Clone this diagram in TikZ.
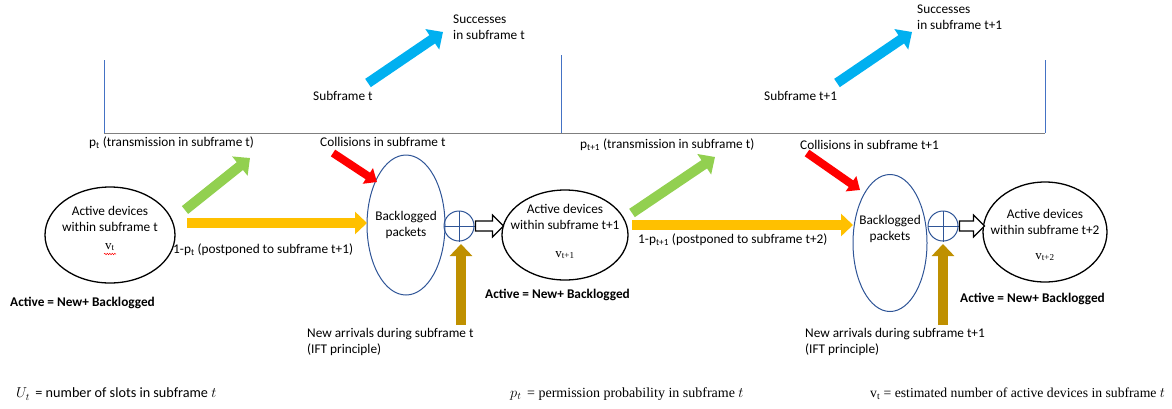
\documentclass[tikz,border=0pt]{standalone}
\usepackage{fontspec}
\setmainfont{Carlito}
\newfontfamily\cambr{Liberation Serif}
\usetikzlibrary{arrows.meta,shapes.geometric,decorations.pathmorphing}
\definecolor{cyanA}{HTML}{00B0F0}
\definecolor{greenA}{HTML}{92D050}
\definecolor{yellowA}{HTML}{FFC000}
\definecolor{goldA}{HTML}{BF9000}
\definecolor{redA}{HTML}{FF0000}
\definecolor{blueE}{HTML}{2F5597}
\definecolor{blueL}{HTML}{4472C4}
\definecolor{grayL}{HTML}{7F7F7F}
\begin{document}
\begin{tikzpicture}[x=1pt,y=-1pt,
  lbl/.style={font=\fontsize{13.3}{16}\selectfont, inner sep=0pt, anchor=west, align=left},
  ctext/.style={font=\fontsize{13.3}{16}\selectfont, inner sep=0pt, align=center},
  boldlbl/.style={lbl, font=\fontsize{13.3}{16}\selectfont\bfseries},
  vlbl/.style={font=\cambr\fontsize{13}{15}\selectfont, inner sep=0pt},
  blkell/.style={ellipse, draw=black, line width=1.3pt, inner sep=0pt},
  bluell/.style={ellipse, draw=blueE, line width=1pt, inner sep=0pt},
  plusnode/.style={circle, draw=blueE, line width=1pt, minimum size=30pt, inner sep=0pt},
  fatarrow/.style={line width=10pt, -{Triangle[width=22pt,length=12pt]}},
  thinarrow/.style={line width=8pt, -{Triangle[width=18pt,length=11pt]}},
  hollowA/.style={draw=black, line width=1.2pt, fill=white, line join=miter},
  bracketv/.style={draw=blueL, line width=0.9pt},
  bracketh/.style={draw=grayL, line width=1pt},
  formula/.style={inner sep=0pt, anchor=west, font=\fontsize{14.2}{16}\selectfont},
  sformula/.style={inner sep=0pt, anchor=west, font=\cambr\fontsize{14}{16}\selectfont}
]
\useasboundingbox (0,0) rectangle (1172,408);

% top bracket
\coordinate (bl) at (104,133);
\coordinate (bm) at (561,133);
\coordinate (br) at (1045,133);
\draw[bracketh] (bl) -- (br);
\draw[bracketv] (bl) -- ++(0,-73);
\draw[bracketv] (bm) -- ++(0,-78);
\draw[bracketv] (br) -- ++(0,-73);

% successes arrows
\coordinate (s1a) at (368,83); \coordinate (s1b) at (443,32);
\coordinate (s2a) at (837,83); \coordinate (s2b) at (912,32);
\draw[fatarrow, cyanA, -{Triangle[width=24pt,length=13pt]}] (s1a) -- (s1b);
\draw[fatarrow, cyanA, -{Triangle[width=24pt,length=13pt]}] (s2a) -- (s2b);
\node[lbl] (sf1) at (313,96) {Subframe t};
\node[lbl] (su1) at (453,27) {Successes\\in subframe t};
\node[lbl] (sf2) at (764,96) {Subframe t+1};
\node[lbl] (su2) at (917,17) {Successes\\in subframe t+1};

% ellipses
\node[blkell, minimum width=130pt, minimum height=96pt] (E1) at (110,235) {};
\node[bluell, minimum width=78pt, minimum height=140pt] (B1) at (406,225) {};
\node[plusnode] (P1) at (459,226) {};
\node[blkell, minimum width=126pt, minimum height=90pt] (E2) at (565,235) {};
\node[bluell, minimum width=74pt, minimum height=137pt] (B2) at (890,243) {};
\node[plusnode] (P2) at (943,226) {};
\node[blkell, minimum width=124pt, minimum height=100pt] (E3) at (1045,232) {};
\draw[blueE, line width=1pt] (P1.north) -- (P1.south) (P1.west) -- (P1.east);
\draw[blueE, line width=1pt] (P2.north) -- (P2.south) (P2.west) -- (P2.east);

% texts inside
\node[ctext] (E1t) at (110,219) {Active devices\\within subframe t};
\node[vlbl] (E1v) at (110,247) {v\textsubscript{t}};
\draw[redA, line width=0.5pt, decorate, decoration={snake, amplitude=0.7pt, segment length=2.5pt}] (104,254) -- (116,254);
\node[ctext] (B1t) at (406,224.5) {Backlogged\\packets};
\node[ctext] (E2t) at (565,217) {Active devices\\within subframe t+1};
\node[vlbl] (E2v) at (565,255) {v\textsubscript{t+1}};
\node[ctext] (B2t) at (890,228.5) {Backlogged\\packets};
\node[ctext] (E3t) at (1045,221.5) {Active devices\\within subframe t+2};
\node[vlbl] (E3v) at (1045,257) {v\textsubscript{t+2}};

% green arrows
\coordinate (g1a) at (185,210); \coordinate (g1b) at (250,158);
\coordinate (g2a) at (632,213); \coordinate (g2b) at (715,157);
\draw[fatarrow, greenA, -{Triangle[width=24pt,length=13pt]}] (g1a) -- (g1b);
\draw[fatarrow, greenA, -{Triangle[width=24pt,length=13pt]}] (g2a) -- (g2b);

% yellow arrows
\coordinate (y1a) at (187,223); \coordinate (y1b) at (367,223);
\coordinate (y2a) at (632,225); \coordinate (y2b) at (853,225);
\draw[fatarrow, yellowA] (y1a) -- (y1b);
\draw[fatarrow, yellowA] (y2a) -- (y2b);

% red arrows
\coordinate (r1a) at (333,153); \coordinate (r1b) at (377,182);
\coordinate (r2a) at (807,153); \coordinate (r2b) at (860,190);
\draw[thinarrow, redA] (r1a) -- (r1b);
\draw[thinarrow, redA] (r2a) -- (r2b);

% gold arrows
\coordinate (n1a) at (461,325);
\coordinate (n2a) at (943,325);
\draw[fatarrow, goldA] (n1a) -- (461,244);
\draw[fatarrow, goldA] (n2a) -- (943,244);

% hollow arrows
\draw[hollowA] (P1.east) ++(1,-5) -- ++(17,0) -- ++(0,-6) -- ++(11,11) -- ++(-11,11) -- ++(0,-6) -- ++(-17,0) -- cycle;
\draw[hollowA] (P2.east) ++(1,-5) -- ++(14,0) -- ++(0,-6) -- ++(11,11) -- ++(-11,11) -- ++(0,-6) -- ++(-14,0) -- cycle;

% labels
\node[lbl] (pt1) at (89,143) {p\textsubscript{t} (transmission in subframe t)};
\node[lbl] (pp1) at (173,250) {1-p\textsubscript{t} (postponed to subframe t+1)};
\node[boldlbl] (ac1) at (10,303) {Active = New+ Backlogged};
\node[lbl] (co1) at (320,142) {Collisions in subframe t};
\node[lbl] (na1) at (307,341.5) {New arrivals during subframe t\\(IFT principle)};
\node[boldlbl] (ac2) at (485,295) {Active = New+ Backlogged};
\node[lbl] (pt2) at (580,145) {p\textsubscript{t+1} (transmission in subframe t)};
\node[lbl] (pp2) at (638,240) {1-p\textsubscript{t+1} (postponed to subframe t+2)};
\node[lbl] (co2) at (800,145) {Collisions in subframe t+1};
\node[lbl] (na2) at (805,341.5) {New arrivals during subframe t+1\\(IFT principle)};
\node[boldlbl] (ac3) at (960,299) {Active = New+ Backlogged};

% formulas
\node[formula] (f1) at (16,394) {$U_t$\, = number of slots in subframe $t$};
\node[sformula] (f2) at (510,394) {$p_t$\, = permission probability in subframe $t$};
\node[sformula, font=\cambr\fontsize{13.7}{16}\selectfont] (f3) at (870,394) {v\textsubscript{t} = estimated number of active devices in subframe $t$};
\end{tikzpicture}
\end{document}
